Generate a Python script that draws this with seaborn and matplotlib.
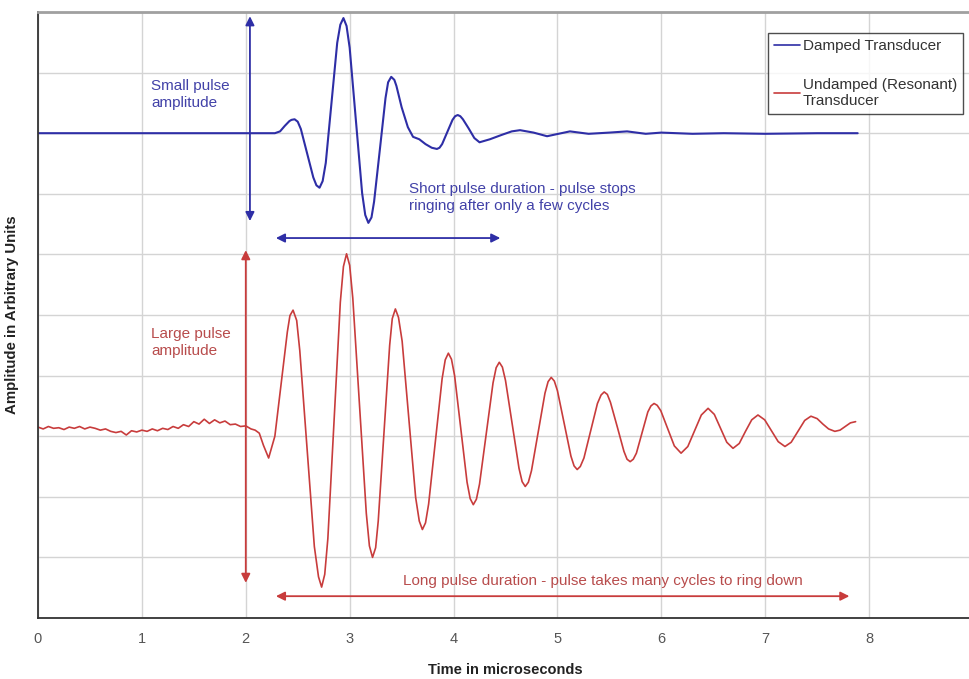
import numpy as np
import pandas as pd
import matplotlib
matplotlib.use("Agg")
import matplotlib.pyplot as plt
import seaborn as sns

# ---- data ----
damped_t = [0.0, 0.5, 1.0, 1.5, 2.0, 2.28, 2.33, 2.375, 2.42, 2.47, 2.53, 2.59, 2.65, 2.71,
            2.77, 2.825, 2.88, 2.94, 3.0, 3.06, 3.12, 3.18, 3.235, 3.29, 3.345, 3.40,
            3.45, 3.50, 3.56, 3.61, 3.67, 3.73, 3.79, 3.84, 3.89, 3.94, 3.99, 4.04,
            4.09, 4.145, 4.20, 4.25, 4.35, 4.46, 4.56, 4.64, 4.77, 4.90, 5.01, 5.12,
            5.3, 5.5, 5.67, 5.85, 6.0, 6.3, 6.6, 7.0, 7.5, 7.89]
damped_y = [8.0, 8.0, 8.0, 8.0, 8.0, 8.0, 8.03, 8.12, 8.20, 8.23, 8.07, 7.67, 7.27, 7.10,
            7.51, 8.50, 9.49, 9.90, 9.41, 8.21, 7.01, 6.52, 6.87, 7.72, 8.58, 8.93,
            8.78, 8.43, 8.10, 7.94, 7.90, 7.82, 7.76, 7.74, 7.82, 8.02, 8.22, 8.30,
            8.23, 8.08, 7.92, 7.85, 7.90, 7.97, 8.03, 8.05, 8.01, 7.95, 7.99, 8.03,
            7.99, 8.01, 8.03, 7.99, 8.01, 7.99, 8.0, 7.99, 8.0, 8.0]
# extra readings next to the crests / troughs of the damped trace
damped_crest_t = [2.44, 2.50, 2.68, 2.74, 2.91, 2.97, 3.15, 3.21, 3.37, 3.43,
                  3.815, 3.865, 4.015, 4.065]
damped_crest_y = [8.22, 8.19, 7.14, 7.21, 9.79, 9.77, 6.65, 6.61, 8.84, 8.88,
                  7.75, 7.76, 8.28, 8.28]

undamped_t = [0.0, 0.05, 0.1, 0.15, 0.2, 0.25, 0.3, 0.35, 0.4, 0.45, 0.5, 0.55, 0.6,
              0.65, 0.7, 0.75, 0.8, 0.85, 0.9, 0.95, 1.0, 1.05, 1.1, 1.15, 1.2, 1.25,
              1.3, 1.35, 1.4, 1.45, 1.5, 1.55, 1.6, 1.65, 1.7, 1.75, 1.8, 1.85, 1.9,
              1.95, 2.0, 2.05, 2.09, 2.13, 2.17, 2.22,
              2.28, 2.34, 2.40, 2.455, 2.52, 2.59, 2.66, 2.73, 2.79, 2.85, 2.91, 2.97,
              3.03, 3.095, 3.16, 3.22, 3.275, 3.33, 3.385, 3.44, 3.505, 3.57, 3.635, 3.70,
              3.76, 3.825, 3.89, 3.95, 4.01, 4.07, 4.13, 4.19, 4.25, 4.315, 4.38, 4.44,
              4.50, 4.565, 4.63, 4.69, 4.75, 4.815, 4.88, 4.94, 5.0, 5.065, 5.13, 5.19,
              5.255, 5.32, 5.385, 5.45, 5.51, 5.575, 5.64, 5.70, 5.76, 5.815, 5.87, 5.93,
              5.995, 6.06, 6.125, 6.19, 6.255, 6.32, 6.385, 6.45, 6.51, 6.57, 6.63, 6.69,
              6.75, 6.81, 6.87, 6.93, 6.995, 7.06, 7.125, 7.19, 7.25, 7.315, 7.38, 7.44,
              7.50, 7.555, 7.61, 7.67, 7.72, 7.77, 7.82, 7.87]
undamped_y = [3.15, 3.12, 3.16, 3.13, 3.14, 3.11, 3.15, 3.13, 3.16, 3.12, 3.15, 3.13, 3.10,
              3.12, 3.08, 3.06, 3.08, 3.02, 3.09, 3.07, 3.10, 3.08, 3.12, 3.09, 3.13, 3.11,
              3.16, 3.13, 3.19, 3.16, 3.24, 3.20, 3.28, 3.21, 3.27, 3.22, 3.25, 3.19, 3.20,
              3.16, 3.17, 3.12, 3.10, 3.05, 2.85, 2.64,
              3.00, 3.86, 4.72, 5.08, 4.41, 2.80, 1.18, 0.51, 1.31, 3.26, 5.21, 6.01,
              5.28, 3.51, 1.73, 1.00, 1.60, 3.05, 4.50, 5.10, 4.57, 3.28, 1.99, 1.46,
              1.88, 2.92, 3.95, 4.37, 4.00, 3.12, 2.24, 1.87, 2.21, 3.05, 3.88, 4.22,
              3.92, 3.20, 2.47, 2.17, 2.43, 3.07, 3.71, 3.97, 3.75, 3.21, 2.67, 2.45,
              2.64, 3.09, 3.54, 3.73, 3.56, 3.16, 2.75, 2.58, 2.72, 3.06, 3.40, 3.54,
              3.42, 3.13, 2.84, 2.72, 2.83, 3.09, 3.35, 3.46, 3.36, 3.13, 2.90, 2.80,
              2.88, 3.08, 3.27, 3.35, 3.27, 3.09, 2.91, 2.83, 2.90, 3.08, 3.26, 3.33,
              3.29, 3.20, 3.12, 3.08, 3.10, 3.16, 3.22, 3.24]
# extra readings next to the crests / troughs of the undamped trace
undamped_crest_t = [2.425, 2.49, 2.70, 2.76, 2.94, 3.00, 3.19, 3.25, 3.41, 3.47,
                    3.67, 3.73, 3.92, 3.98, 4.16, 4.22, 4.41, 4.47, 4.66, 4.72,
                    4.91, 4.97, 5.16, 5.22, 5.42, 5.48, 5.67, 5.73, 5.90, 5.96]
undamped_crest_y = [4.99, 4.91, 0.68, 0.72, 5.80, 5.82, 1.19, 1.16, 4.94, 4.96,
                    1.60, 1.57, 4.26, 4.27, 1.97, 1.96, 4.13, 4.14, 2.25, 2.24,
                    3.90, 3.91, 2.51, 2.50, 3.68, 3.69, 2.62, 2.62, 3.50, 3.51]

series_names = ["Damped Transducer", "Undamped (Resonant)\nTransducer"]
x_ticks = [0, 1, 2, 3, 4, 5, 6, 7, 8, 9]

BLUE = "#2e2ea6"
RED = "#c83c3c"

df_d = pd.DataFrame({"t": damped_t + damped_crest_t, "amp": damped_y + damped_crest_y})
df_d = df_d.sort_values("t")
df_u = pd.DataFrame({"t": undamped_t + undamped_crest_t, "amp": undamped_y + undamped_crest_y})
df_u = df_u.sort_values("t")

sns.set_theme(style="white")
plt.rcParams["font.family"] = ["Liberation Sans", "DejaVu Sans"]
NARROW = ["Liberation Sans Narrow", "Liberation Sans", "DejaVu Sans"]

fig = plt.figure(figsize=(9.7, 6.79), dpi=100)
ax = fig.add_axes([38 / 970, 61 / 679, (973 - 38) / 970, 606 / 679])

sns.lineplot(data=df_d, x="t", y="amp", color=BLUE, lw=1.5, ax=ax,
             estimator=None, sort=False, label=series_names[0])
sns.lineplot(data=df_u, x="t", y="amp", color=RED, lw=1.2, ax=ax,
             estimator=None, sort=False, label=series_names[1])

ax.set_xlim(0, 9)
ax.set_ylim(0, 10)
ax.set_xticks(x_ticks)
ax.set_xticklabels([str(v) for v in x_ticks], color="#555555", fontsize=10.5, family=NARROW)
ax.set_yticks(range(0, 11))
ax.set_yticklabels([])
ax.grid(True, color="#d4d4d4", lw=1.0)
ax.set_axisbelow(True)
ax.tick_params(axis="x", direction="inout", length=8, width=1, color="#444444", pad=6)
ax.tick_params(axis="y", length=0)
for side in ["left", "bottom"]:
    ax.spines[side].set_color("#333333")
    ax.spines[side].set_linewidth(1.3)
ax.spines["top"].set_color("#a0a0a0")
ax.spines["top"].set_linewidth(2)
ax.spines["right"].set_visible(False)

ax.set_xlabel("Time in microseconds", fontsize=10.5, fontweight="bold",
              family=NARROW, labelpad=12, color="#222222")
ax.set_ylabel("Amplitude in Arbitrary Units", fontsize=10.8, fontweight="bold",
              family=NARROW, labelpad=10, color="#222222")

# annotation arrows
arrow_kw = dict(arrowstyle="<|-|>", lw=1.3, mutation_scale=13, shrinkA=0, shrinkB=0)
ax.annotate("", xy=(2.04, 9.93), xytext=(2.04, 6.55),
            arrowprops=dict(color=BLUE, **arrow_kw))
ax.annotate("", xy=(2.29, 6.27), xytext=(4.45, 6.27),
            arrowprops=dict(color=BLUE, **arrow_kw))
ax.annotate("", xy=(2.0, 6.07), xytext=(2.0, 0.58),
            arrowprops=dict(color=RED, **arrow_kw))
ax.annotate("", xy=(2.29, 0.36), xytext=(7.81, 0.36),
            arrowprops=dict(color=RED, **arrow_kw))

TBLUE = "#4242a8"
TRED = "#b84c4c"
txt_kw = dict(fontsize=11, va="center", ha="left", linespacing=1.3)
ax.text(1.09, 8.64, "Small pulse\namplitude", color=TBLUE, **txt_kw)
ax.text(3.57, 6.94, "Short pulse duration - pulse stops\nringing after only a few cycles",
        color=TBLUE, **txt_kw)
ax.text(1.09, 4.55, "Large pulse\namplitude", color=TRED, **txt_kw)
ax.text(3.51, 0.61, "Long pulse duration - pulse takes many cycles to ring down",
        color=TRED, **txt_kw)

leg = ax.legend(loc="upper right", bbox_to_anchor=(963 / 970, 1 - 33 / 679),
                bbox_transform=fig.transFigure, borderaxespad=0, fontsize=11,
                frameon=True, fancybox=False, handlelength=1.7, labelspacing=1.6,
                handletextpad=0.15, borderpad=0.4)
leg.get_frame().set_edgecolor("#222222")
leg.get_frame().set_linewidth(1.0)
for line in leg.get_lines():
    line.set_linewidth(1.2)
for txt in leg.get_texts():
    txt.set_color("#333333")

fig.savefig("out.png", dpi=100)
